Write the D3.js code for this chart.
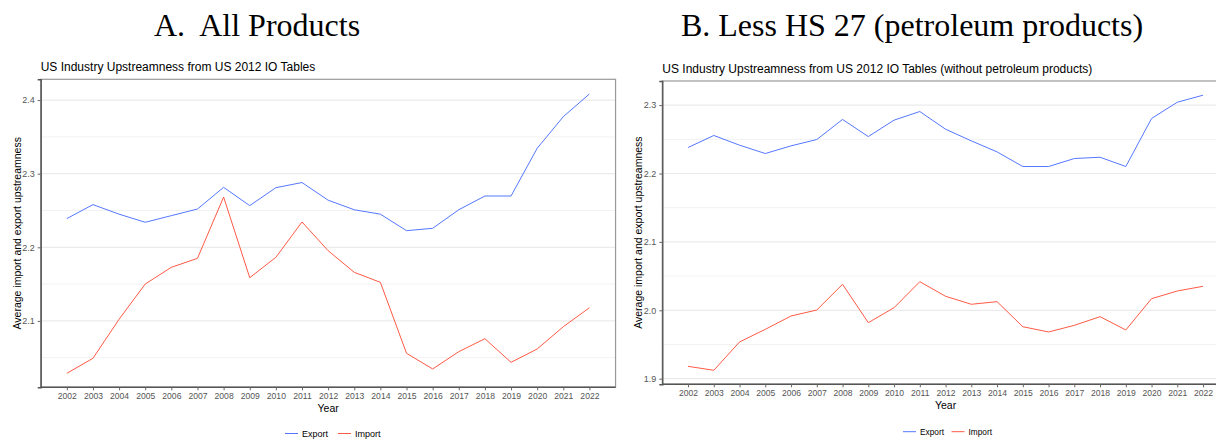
<!DOCTYPE html>
<html><head><meta charset="utf-8">
<script src="https://cdn.jsdelivr.net/npm/d3@7"></script>
<style>body{margin:0;background:#fff;overflow:hidden}svg{display:block}text{white-space:pre}</style>
</head><body>
<script>
const years = d3.range(2002, 2023);
const exportAll = [2.239,2.258,2.245,2.234,2.243,2.252,2.2815,2.2566,2.281,2.288,2.264,2.251,2.245,2.2226,2.2258,2.251,2.2697,2.2697,2.3345,2.3775,2.4083];
const importAll = [2.0288,2.0492,2.1022,2.1501,2.1728,2.185,2.2683,2.1587,2.1864,2.2344,2.1954,2.166,2.1524,2.056,2.0347,2.0582,2.0758,2.0437,2.0618,2.0921,2.1179];
const exportLess = [2.238,2.2556,2.2414,2.2292,2.2404,2.2497,2.279,2.254,2.278,2.2906,2.2648,2.2477,2.2316,2.2102,2.2102,2.2219,2.2238,2.2102,2.2804,2.3042,2.3145];
const importLess = [1.9181,1.9123,1.9537,1.9722,1.9917,2.0004,2.038,1.9819,2.0038,2.0418,2.0205,2.0088,2.0126,1.976,1.9683,1.978,1.9907,1.9712,2.017,2.0282,2.0351];
const ticksA = [2.1,2.2,2.3,2.4];
const minorA = [2.05,2.15,2.25,2.35];
const ticksB = [1.9,2.0,2.1,2.2,2.3];
const minorB = [1.95,2.05,2.15,2.25];
const seriesNames = ["Export","Import"];
const colors = {Export:"#5577FF", Import:"#FF5A45"};

const W=1216,H=439;
const svg = d3.select("body").append("svg").attr("width",W).attr("height",H);

function panel(o){
  const g = svg.append("g");
  const x = d3.scaleLinear().domain([2001,2023]).range([o.left, o.left + 22*o.step]);
  const y = d3.scaleLinear().domain(o.ydom).range([o.bottom, o.top]);
  const right = Math.min(x(2023), o.clipRight);
  g.append("text").attr("x",o.titleX).attr("y",36).attr("text-anchor","middle").attr("xml:space","preserve")
   .attr("font-family","'Liberation Serif','Times New Roman',serif").attr("font-size",o.titleFs).attr("fill","#000").text(o.title);
  g.append("text").attr("x",o.left).attr("y",o.top-8).attr("font-family","'Liberation Sans',Arial,sans-serif")
   .attr("font-size",12).attr("fill","#000").text(o.sub);
  g.selectAll(".mn").data(o.minor).join("line").attr("x1",o.left).attr("x2",right)
   .attr("y1",d=>y(d)).attr("y2",d=>y(d)).attr("stroke","#F2F2F2").attr("stroke-width",1);
  g.selectAll(".mj").data(o.ticks).join("line").attr("x1",o.left).attr("x2",right)
   .attr("y1",d=>y(d)).attr("y2",d=>y(d)).attr("stroke","#EBEBEB").attr("stroke-width",1.2);
  g.append("rect").attr("x",o.left).attr("y",o.top).attr("width",right-o.left).attr("height",o.bottom-o.top)
   .attr("fill","none").attr("stroke","#999").attr("stroke-width",1.2);
  const ya = d3.axisLeft(y).tickValues(o.ticks).tickSize(3).tickPadding(3).tickFormat(d3.format(".1f"));
  const ga = g.append("g").attr("transform",`translate(${o.left},0)`).call(ya);
  ga.select(".domain").attr("stroke","#555").attr("stroke-width",1.4);
  ga.selectAll(".tick line").attr("stroke","#666");
  ga.selectAll("text").attr("font-family","'Liberation Sans',Arial,sans-serif").attr("font-size",9).attr("fill","#555");
  const xa = d3.axisBottom(x).tickValues(years).tickSize(3).tickPadding(3).tickFormat(d3.format("d"));
  const gx = g.append("g").attr("transform",`translate(0,${o.bottom})`).call(xa);
  gx.select(".domain").attr("stroke","#555").attr("stroke-width",1.4).attr("d",`M${o.left},0H${right}`);
  gx.selectAll(".tick line").attr("stroke","#666");
  gx.selectAll("text").attr("font-family","'Liberation Sans',Arial,sans-serif").attr("font-size",8.6).attr("fill","#555");
  g.append("text").attr("x",(o.left+x(2023))/2).attr("y",o.bottom+25).attr("text-anchor","middle")
   .attr("font-family","'Liberation Sans',Arial,sans-serif").attr("font-size",10.5).attr("fill","#000").text("Year");
  g.append("text").attr("transform",`translate(${o.left-20},${(o.top+o.bottom)/2}) rotate(-90)`).attr("text-anchor","middle")
   .attr("font-family","'Liberation Sans',Arial,sans-serif").attr("font-size",10.5).attr("fill","#000")
   .text("Average import and export upstreamness");
  const line = d3.line().x((d,i)=>x(years[i])).y(d=>y(d));
  [["Export",o.exp],["Import",o.imp]].forEach(([n,v])=>{
    g.append("path").datum(v).attr("d",line).attr("fill","none").attr("stroke",colors[n]).attr("stroke-width",1);
  });
  const lg = g.append("g").attr("transform",`translate(${o.legX},${o.legY})`);
  seriesNames.forEach((n,i)=>{
    const ox = i*o.legGap;
    lg.append("line").attr("x1",ox).attr("x2",ox+13).attr("y1",0).attr("y2",0).attr("stroke",colors[n]).attr("stroke-width",1);
    lg.append("text").attr("x",ox+17).attr("y",3).attr("font-family","'Liberation Sans',Arial,sans-serif")
      .attr("font-size",o.legFs).attr("fill","#000").text(n);
  });
}

panel({left:40.7, step:26.13, top:79.3, bottom:387.3, ydom:[2.2-(387.3-247.3)/736, 2.2+(247.3-79.3)/736],
  ticks:ticksA, minor:minorA, clipRight:2000, exp:exportAll, imp:importAll,
  title:"A.  All Products", titleX:257, titleFs:32, sub:"US Industry Upstreamness from US 2012 IO Tables",
  legX:285, legY:433.5, legGap:53, legFs:9});
panel({left:662.3, step:25.75, top:81, bottom:384.3, ydom:[2.0-(384.3-310.3)/684, 2.0+(310.3-81)/684],
  ticks:ticksB, minor:minorB, clipRight:1240, exp:exportLess, imp:importLess,
  title:"B. Less HS 27 (petroleum products)", titleX:912, titleFs:32, sub:"US Industry Upstreamness from US 2012 IO Tables (without petroleum products)",
  legX:903, legY:431.7, legGap:48.5, legFs:8.3});
</script>
</body></html>
